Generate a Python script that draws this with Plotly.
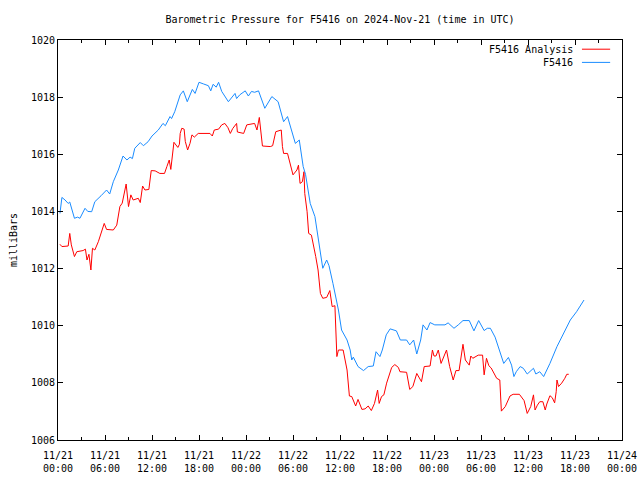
import pandas as pd
import plotly.graph_objects as go

# Hours after 2024-11-21 00:00 UTC, and pressures (mb)
obs_hours = [0.25, 0.5, 0.9, 1.3, 1.5, 2.1, 2.5, 2.8, 3.45, 3.8, 4.3, 4.7, 5.5, 6.2, 6.6, 7.06, 7.7, 8.3, 8.8, 9.2,
             9.5, 9.8, 10.5, 10.9, 11.5, 12.0, 12.8, 13.4, 13.7, 14.3, 14.5, 14.9, 15.6, 16.0, 16.5, 17.15, 17.5,
             18.0, 18.6, 19.2, 19.5, 19.8, 20.2, 20.5, 20.9, 21.75, 22.6, 22.8, 23.2, 23.9, 24.3, 24.7, 25.1, 25.6,
             26.4, 27.3, 28.1, 28.8, 29.3, 29.8, 30.3, 30.8, 31.3, 31.6, 32.2, 32.8, 33.2, 33.5, 33.8, 34.3, 34.6,
             35.1, 35.8, 36.2, 36.9, 37.3, 37.5, 37.7, 38.3, 39.0, 39.6, 40.25, 40.6, 41.1, 41.4, 41.9, 42.4, 43.2,
             43.7, 44.5, 44.9, 45.4, 45.8, 46.3, 46.6, 47.1, 47.5, 48.1, 49.4, 49.8, 50.55, 51.1, 51.7, 52.5, 53.1,
             53.7, 54.4, 54.8, 55.2, 55.8, 56.4, 56.9, 57.5, 57.9, 58.2, 58.5, 59.0, 59.4, 59.9, 60.7, 61.0, 61.5,
             62.0, 62.8, 63.7, 64.6, 65.4, 66.2, 67.15]
obs_mb = [1013.93, 1014.49, 1014.4, 1014.28, 1014.33, 1013.76, 1013.8, 1013.76, 1014.11, 1014.0, 1013.99, 1014.34,
          1014.55, 1014.75, 1014.61, 1015.04, 1015.45, 1015.94, 1015.8, 1015.9, 1015.85, 1016.21, 1016.41, 1016.3,
          1016.44, 1016.64, 1016.85, 1017.08, 1017.0, 1017.32, 1017.25, 1017.49, 1018.08, 1018.22, 1017.84, 1018.27,
          1018.13, 1018.52, 1018.46, 1018.4, 1018.22, 1018.45, 1018.35, 1018.52, 1018.2, 1017.84, 1018.13, 1017.95,
          1018.08, 1018.22, 1018.04, 1018.2, 1018.17, 1018.22, 1017.61, 1018.02, 1017.84, 1017.14, 1017.32, 1016.85,
          1016.38, 1016.5, 1015.57, 1015.3, 1014.28, 1013.82, 1013.12, 1012.5, 1012.01, 1012.3, 1012.1, 1011.48,
          1010.55, 1009.85, 1009.5, 1009.15, 1008.8, 1008.9, 1008.57, 1008.43, 1008.57, 1008.59, 1009.09, 1008.92,
          1009.15, 1009.68, 1009.89, 1009.82, 1009.5, 1009.5, 1009.33, 1009.5, 1009.01, 1009.5, 1010.03, 1009.85,
          1010.11, 1010.03, 1010.03, 1010.1, 1009.91, 1010.03, 1010.18, 1010.18, 1009.82, 1010.18, 1009.83, 1009.91,
          1009.91, 1009.6, 1009.09, 1008.68, 1008.89, 1008.62, 1008.22, 1008.39, 1008.57, 1008.51, 1008.31, 1008.51,
          1008.31, 1008.39, 1008.22, 1008.68, 1009.27, 1009.79, 1010.2, 1010.49, 1010.9]

ana_hours = [0.25, 0.5, 1.3, 1.5, 1.7, 2.1, 2.4, 3.2, 3.5, 3.7, 3.95, 4.2, 4.4, 4.7, 5.15, 5.6, 5.9, 6.2, 7.06, 7.5,
             7.9, 8.2, 8.55, 8.7, 9.0, 9.3, 9.6, 10.25, 10.5, 10.8, 11.1, 11.6, 11.9, 12.4, 13.0, 13.6, 13.9, 14.2,
             14.4, 14.6, 14.8, 15.3, 15.5, 15.6, 15.8, 16.1, 16.25, 16.55, 16.85, 17.1, 17.4, 17.9, 19.4, 19.7, 19.95,
             20.5, 20.9, 21.3, 21.7, 22.0, 22.3, 22.8, 22.9, 23.7, 24.1, 25.1, 25.4, 25.7, 25.9, 26.1, 27.1, 27.4,
             27.8, 28.5, 28.65, 28.8, 29.3, 29.6, 30.0, 30.5, 30.7, 30.9, 31.2, 31.4, 31.5, 31.8, 32.0, 32.35, 32.6,
             32.9, 33.2, 33.5, 33.8, 34.3, 34.7, 35.0, 35.35, 35.6, 35.8, 36.0, 36.4, 36.9, 37.2, 37.5, 38.0, 38.3,
             38.8, 39.2, 39.6, 40.0, 40.4, 40.8, 41.0, 41.3, 41.6, 41.95, 42.3, 42.6, 43.0, 43.45, 43.65, 44.5, 44.9,
             45.3, 45.8, 46.0, 46.4, 46.75, 47.5, 47.8, 48.0, 48.25, 48.55, 48.9, 49.2, 49.6, 50.0, 50.45, 50.8, 51.2,
             51.4, 51.7, 52.0, 52.5, 52.7, 52.95, 53.65, 54.2, 54.4, 54.7, 55.0, 55.3, 56.0, 56.4, 56.6, 57.1, 57.7,
             58.1, 58.9, 59.5, 59.9, 60.35, 60.7, 60.9, 61.2, 61.5, 61.9, 62.2, 62.4, 62.8, 63.1, 63.4, 63.6, 63.7,
             63.9, 64.3, 64.7, 64.95, 65.2]
ana_mb = [1012.85, 1012.77, 1012.79, 1013.23, 1012.83, 1012.42, 1012.59, 1012.63, 1012.68, 1012.3, 1012.5, 1011.95,
          1012.71, 1012.65, 1012.94, 1013.35, 1013.58, 1013.37, 1013.35, 1013.52, 1014.17, 1014.29, 1014.81, 1014.96,
          1014.17, 1014.58, 1014.4, 1014.46, 1014.31, 1014.89, 1014.75, 1014.77, 1015.43, 1015.42, 1015.33, 1015.33,
          1015.57, 1015.8, 1015.47, 1015.86, 1016.42, 1016.24, 1016.35, 1016.73, 1016.91, 1016.88, 1016.45, 1016.15,
          1016.38, 1016.68, 1016.6, 1016.73, 1016.73, 1016.64, 1016.85, 1016.88, 1017.03, 1017.08, 1016.93, 1016.73,
          1016.9, 1017.08, 1016.78, 1016.73, 1017.03, 1017.08, 1016.85, 1017.29, 1016.85, 1016.29, 1016.27, 1016.3,
          1016.79, 1016.85, 1016.27, 1016.03, 1016.03, 1015.68, 1015.28, 1015.45, 1015.62, 1014.98, 1015.04, 1015.39,
          1014.63, 1013.99, 1013.23, 1013.17, 1012.88, 1012.42, 1011.95, 1011.13, 1010.96, 1010.99, 1011.23, 1010.67,
          1010.7, 1008.92, 1009.15, 1009.15, 1009.15, 1008.45, 1007.54, 1007.52, 1007.19, 1007.42, 1007.07, 1007.09,
          1007.19, 1007.03, 1007.28, 1007.75, 1007.28, 1007.52, 1007.58, 1007.99, 1008.28, 1008.54, 1008.64, 1008.54,
          1008.39, 1008.37, 1007.77, 1007.87, 1008.33, 1008.22, 1008.04, 1008.57, 1008.59, 1009.15, 1008.94, 1008.94,
          1009.15, 1008.68, 1008.89, 1009.15, 1008.57, 1008.1, 1008.43, 1008.43, 1008.8, 1009.35, 1008.8, 1008.62,
          1008.94, 1008.86, 1008.97, 1008.97, 1008.28, 1008.86, 1008.6, 1008.52, 1008.16, 1008.1, 1007.01, 1007.17,
          1007.54, 1007.6, 1007.6, 1007.38, 1006.93, 1007.17, 1007.58, 1007.05, 1007.22, 1007.34, 1007.34, 1007.05,
          1007.26, 1007.55, 1007.48, 1007.3, 1007.69, 1008.1, 1007.87, 1007.99, 1008.16, 1008.3, 1008.3]

start = pd.Timestamp("2024-11-21 00:00")
obs_t = [start + pd.Timedelta(hours=h) for h in obs_hours]
ana_t = [start + pd.Timedelta(hours=h) for h in ana_hours]

FONT = "DejaVu Sans Mono"
RED = "#ff0000"
BLUE = "#1a8cff"

fig = go.Figure()
fig.add_trace(go.Scatter(x=ana_t, y=ana_mb, mode="lines", name="F5416 Analysis",
                         line=dict(color=RED, width=1)))
fig.add_trace(go.Scatter(x=obs_t, y=obs_mb, mode="lines", name="F5416",
                         line=dict(color=BLUE, width=1)))

axis_common = dict(showline=True, linecolor="black", linewidth=1, mirror="ticks",
                   ticks="inside", tickcolor="black", showgrid=False, zeroline=False,
                   automargin=False,
                   tickfont=dict(family=FONT, size=10, color="black"))

fig.update_xaxes(type="date", range=["2024-11-21 00:00", "2024-11-24 00:00"],
                 dtick=6 * 3600 * 1000, tick0="2024-11-21 00:00",
                 tickformat="%m/%d\n%H:%M", ticklen=5, ticklabelstandoff=6,
                 minor=dict(ticks="inside", ticklen=3, dtick=3 * 3600 * 1000,
                            tick0="2024-11-21 00:00", tickcolor="black"),
                 **axis_common)
fig.update_yaxes(range=[1006, 1020], dtick=2, ticklen=5,
                 title=dict(text="milliBars", font=dict(family=FONT, size=10, color="black"), standoff=11),
                 **axis_common)

# Legend (gnuplot style: text right-aligned, sample to the right)
fig.add_annotation(xref="paper", yref="paper", x=0.9167, y=0.977, text="F5416 Analysis",
                   showarrow=False, xanchor="right", yanchor="middle",
                   font=dict(family=FONT, size=10, color="black"))
fig.add_annotation(xref="paper", yref="paper", x=0.9167, y=0.944, text="F5416",
                   showarrow=False, xanchor="right", yanchor="middle",
                   font=dict(family=FONT, size=10, color="black"))
fig.add_shape(type="line", xref="paper", yref="paper", x0=0.929, x1=0.979, y0=0.977, y1=0.977,
              line=dict(color=RED, width=1))
fig.add_shape(type="line", xref="paper", yref="paper", x0=0.929, x1=0.979, y0=0.944, y1=0.944,
              line=dict(color=BLUE, width=1))

fig.update_layout(
    width=640, height=480,
    margin=dict(l=58, r=18, t=40, b=40, autoexpand=False),
    paper_bgcolor="white", plot_bgcolor="white",
    showlegend=False,
    title=dict(text="Barometric Pressure for F5416 on 2024-Nov-21 (time in UTC)",
               x=0.5, xref="paper", y=1 - 19 / 480, yanchor="middle",
               font=dict(family=FONT, size=10, color="black")),
    font=dict(family=FONT, size=10, color="black"),
)

fig.write_html("out.html", config={"displayModeBar": False},
               post_script="document.body.style.margin='0';document.body.style.padding='0';")
